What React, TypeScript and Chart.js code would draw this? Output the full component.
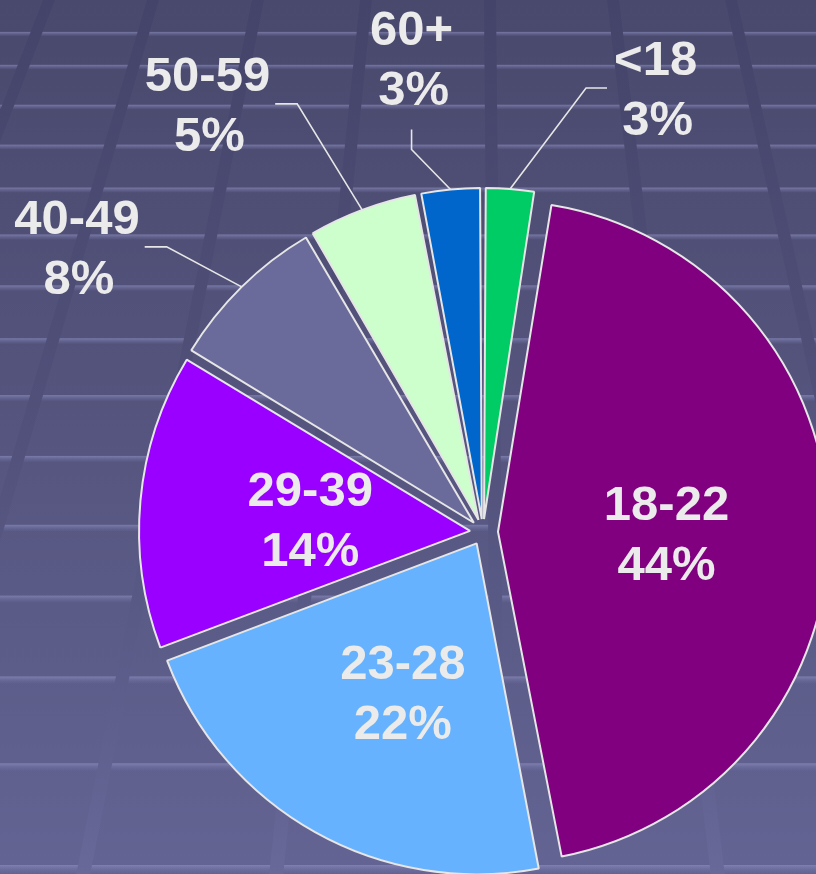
import React, { useEffect, useRef } from "react";
import { Chart, registerables } from "chart.js";

Chart.register(...registerables);

// ---- data ----
const categories = ["<18", "18-22", "23-28", "29-39", "40-49", "50-59", "60+"];
const shares = [2.5, 44.4, 22.2, 14.4, 7.9, 5.4, 3.0];
const percentLabels = ["3%", "44%", "22%", "14%", "8%", "5%", "3%"];

// ---- style ----
const sliceColors = ["#00cc66", "#800080", "#66b2ff", "#9900ff", "#6b6b9b", "#ccffcc", "#0066cc"];
const sliceOffsets = [52, 60, 52, 52, 52, 52, 52]; // chart.js offset (translation = offset / 4)
const PIE_RADIUS = 331;
const W = 816;
const H = 874;
const FONT = 'bold 49px "Liberation Sans", Arial, Helvetica, sans-serif';
const TEXT_COLOR = "#ebebeb";
const LINE_GAP = 60;

type LabelLayout =
  | { kind: "inside"; frac: number; dx: number; dy: number }
  | { kind: "outside"; elbow: [number, number]; end: [number, number]; side: "left" | "right" | "top" };

const labelLayouts: LabelLayout[] = [
  { kind: "outside", elbow: [76, -101], end: [21, 0], side: "right" },
  { kind: "inside", frac: 0.5, dx: 3, dy: 4 },
  { kind: "inside", frac: 0.5, dx: 7, dy: 4 },
  { kind: "inside", frac: 0.5, dx: 5, dy: 3 },
  { kind: "outside", elbow: [-75, -40], end: [-22, 0], side: "left" },
  { kind: "outside", elbow: [-65, -106], end: [-22, 0], side: "left" },
  { kind: "outside", elbow: [-39, -40], end: [0, -20], side: "top" },
];

const bandYs = [34, 67, 107, 147, 190, 237, 288, 341, 398, 459, 528, 599, 680, 767, 869];
const lineTops = [-62, 49, 153, 258, 366, 490, 613, 731, 850];
const VAN_X = 480;
const VAN_Y = -1110;

const backgroundPlugin = {
  id: "slideBackground",
  beforeDraw(chart: any) {
    const ctx: CanvasRenderingContext2D = chart.ctx;
    ctx.save();
    const g = ctx.createLinearGradient(0, 0, 0, H);
    g.addColorStop(0, "#49496d");
    g.addColorStop(0.5, "#55557f");
    g.addColorStop(1, "#646494");
    ctx.fillStyle = g;
    ctx.fillRect(0, 0, W, H);

    // horizontal light bands
    bandYs.forEach((y) => {
      const h = 4 + y / 220;
      const bg = ctx.createLinearGradient(0, y - h / 2, 0, y + h / 2);
      bg.addColorStop(0, "rgba(140,140,190,0.7)");
      bg.addColorStop(0.4, "rgba(125,125,175,0.5)");
      bg.addColorStop(1, "rgba(110,110,160,0.12)");
      ctx.fillStyle = bg;
      ctx.fillRect(0, y - h / 2, W, h);
    });

    // perspective vertical strips
    const lg = ctx.createLinearGradient(0, 0, 0, H);
    lg.addColorStop(0, "#44446a");
    lg.addColorStop(0.5, "#51517b");
    lg.addColorStop(0.8, "#5e5e8c");
    lg.addColorStop(1, "#686899");
    ctx.fillStyle = lg;
    lineTops.forEach((x0) => {
      const k = (H - VAN_Y) / (0 - VAN_Y);
      const xb = VAN_X + (x0 - VAN_X) * k;
      ctx.beginPath();
      ctx.moveTo(x0 - 6, 0);
      ctx.lineTo(x0 + 6, 0);
      ctx.lineTo(xb + 7, H);
      ctx.lineTo(xb - 7, H);
      ctx.closePath();
      ctx.fill();
    });
    ctx.restore();
  },
};

// keep visible radius equal for every exploded slice
const radiusPlugin = {
  id: "equalRadius",
  afterDatasetsUpdate(chart: any) {
    const meta = chart.getDatasetMeta(0);
    meta.data.forEach((el: any) => {
      const t = (el.options.offset || 0) / 4;
      const fix = 1 - Math.sin(Math.min(Math.PI, el.circumference || 0));
      el.outerRadius = PIE_RADIUS - t * fix;
    });
  },
};

const labelPlugin = {
  id: "sliceLabels",
  afterDatasetsDraw(chart: any) {
    const ctx: CanvasRenderingContext2D = chart.ctx;
    const meta = chart.getDatasetMeta(0);
    ctx.save();
    ctx.font = FONT;
    ctx.fillStyle = TEXT_COLOR;
    ctx.strokeStyle = "#e6e6e6";
    ctx.lineWidth = 1.6;
    ctx.textAlign = "center";
    ctx.textBaseline = "alphabetic";
    meta.data.forEach((el: any, i: number) => {
      const a = (el.startAngle + el.endAngle) / 2;
      const t = (el.options.offset || 0) / 4;
      const cx = el.x + Math.cos(a) * t;
      const cy = el.y + Math.sin(a) * t;
      const lines = [categories[i], percentLabels[i]];
      const lay = labelLayouts[i];
      if (lay.kind === "inside") {
        const px = cx + Math.cos(a) * PIE_RADIUS * lay.frac + lay.dx;
        const py = cy + Math.sin(a) * PIE_RADIUS * lay.frac + lay.dy;
        ctx.fillText(lines[0], px, py - 13);
        ctx.fillText(lines[1], px, py - 13 + LINE_GAP);
      } else {
        const ex = cx + Math.cos(a) * PIE_RADIUS;
        const ey = cy + Math.sin(a) * PIE_RADIUS;
        const bx = ex + lay.elbow[0];
        const by = ey + lay.elbow[1];
        const fx = bx + lay.end[0];
        const fy = by + lay.end[1];
        ctx.beginPath();
        ctx.moveTo(ex, ey);
        ctx.lineTo(bx, by);
        ctx.lineTo(fx, fy);
        ctx.stroke();
        const maxW = Math.max(...lines.map((s) => ctx.measureText(s).width));
        if (lay.side === "top") {
          ctx.fillText(lines[0], fx, fy - 25 - LINE_GAP);
          ctx.fillText(lines[1], fx + 2, fy - 25);
        } else {
          const mx = lay.side === "right" ? fx + 7 + maxW / 2 : fx - 5 - maxW / 2;
          ctx.fillText(lines[0], mx, fy - 13);
          ctx.fillText(lines[1], mx + 2, fy - 13 + LINE_GAP);
        }
      }
    });
    ctx.restore();
  },
};

export default function App() {
  const canvasRef = useRef<HTMLCanvasElement | null>(null);

  useEffect(() => {
    const canvas = canvasRef.current;
    if (!canvas) return;
    const chart = new Chart(canvas, {
      type: "pie",
      data: {
        labels: categories,
        datasets: [
          {
            data: shares,
            backgroundColor: sliceColors,
            borderColor: "#e6e6e6",
            borderWidth: 2,
            offset: sliceOffsets,
            radius: PIE_RADIUS,
            clip: false,
          } as any,
        ],
      },
      options: {
        responsive: false,
        animation: false,
        events: [],
        layout: { padding: { left: 150, top: 190, right: 0, bottom: 0 } },
        plugins: {
          legend: { display: false },
          tooltip: { enabled: false },
        },
      } as any,
      plugins: [backgroundPlugin, radiusPlugin, labelPlugin],
    });
    return () => chart.destroy();
  }, []);

  return (
    <div style={{ position: "fixed", left: 0, top: 0, width: W, height: H, overflow: "hidden" }}>
      <canvas ref={canvasRef} width={W} height={H} style={{ display: "block", width: W, height: H }} />
    </div>
  );
}
